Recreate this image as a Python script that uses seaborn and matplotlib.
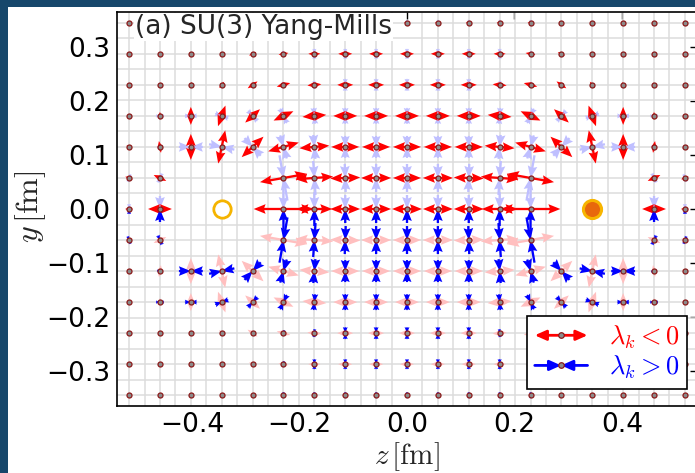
import numpy as np
import pandas as pd
import matplotlib
matplotlib.use("Agg")
import matplotlib.pyplot as plt
import seaborn as sns
from matplotlib.patches import Rectangle, FancyArrowPatch
from matplotlib.lines import Line2D
from matplotlib.legend_handler import HandlerBase
from matplotlib.ticker import MultipleLocator

nan = np.nan

# ---------------- data ----------------
site_step = 0.0575                       # fm between plotted sites
z_sites = [0, 1, 2, 3, 4, 5, 6, 7, 8, 9]  # column index (z = index*site_step), mirrored to z<0
y_sites = [0, 1, 2, 3, 4, 5, 6]           # row index (y = index*site_step), mirrored to y<0
charge_z = [-0.345, 0.345]
charge_y = [0.0, 0.0]

# half-length of the lambda_k<0 (red) eigenvector arrows, quadrant z>=0, y>=0
neg_len = [
    [15, 15, 15, 18, 30, nan, nan, nan, 12, 4],
    [14, 15, 15, 19, 24, nan, nan, nan, 7, 4],
    [14, 14, 14, 15, 16, 15, 17, 13, 6, 3],
    [12, 12, 12, 12, 11, 10, 11, 9, 4, 2],
    [8, 8, 8, 7, 7, 6, 4, 3, 2.5, 1.5],
    [7, 7, 7, 6, 5, 4, 2, 1.5, 1.5, 1.5],
    [3, 3, 3, 3, 3, 1.5, 1.5, 1.5, 1.5, 1.5],
]
# direction (deg from z axis) of the lambda_k<0 eigenvector, same quadrant
neg_angle = [
    [0, 0, 0, 0, 0, nan, nan, nan, 0, 0],
    [0, 0, -2, -4, -10, nan, nan, nan, 25, 20],
    [0, 0, 0, -5, -16, -43, -78, 90, 80, 30],
    [0, 0, 0, -5, -25, -42, -70, 90, 90, 0],
    [0, 0, 0, -5, -15, -35, -52, -72, -70, 0],
    [0, 0, 0, 0, -10, -25, -40, 0, 0, 0],
    [0, 0, 0, 0, 0, 0, 0, 0, 0, 0],
]
# half-length of the lambda_k>0 (blue) eigenvector arrows, same quadrant
pos_len = [
    [14, 14, 14, 17, 20, nan, nan, nan, 13, 5],
    [14, 14, 14, 17, 23, nan, nan, nan, 5, 4],
    [11, 11, 11, 12, 12, 12, 13, 12, 3, 1.5],
    [8, 8, 8, 8, 8, 7, 7, 6, 4, 1.5],
    [6, 6, 6, 4, 3, 2, 1.5, 1.5, 1.5, 1.5],
    [5, 5, 5, 5, 3, 2, 1.5, 1.5, 1.5, 1.5],
    [3, 3, 3, 3, 3, 1.5, 1.5, 1.5, 1.5, 1.5],
]

xticks = [-0.4, -0.2, 0.0, 0.2, 0.4]
yticks = [-0.3, -0.2, -0.1, 0.0, 0.1, 0.2, 0.3]
panel_title = "(a) SU(3) Yang-Mills"
legend_labels = [r"$\lambda_k < 0$", r"$\lambda_k > 0$"]
xlabel = r"$z\,[\mathrm{fm}]$"
ylabel = r"$y\,[\mathrm{fm}]$"

RED, BLUE = "#ff0000", "#0000ff"
RED_L, BLUE_L = "#ffbfbf", "#bfbfff"

# ---------------- build the full (mirrored) field table ----------------
recs = []
for jj in range(-max(y_sites), max(y_sites) + 1):
    for ii in range(-max(z_sites), max(z_sites) + 1):
        a, b = abs(jj), abs(ii)
        lr = neg_len[a][b]
        if np.isnan(lr):
            continue
        sgn = (1 if ii >= 0 else -1) * (1 if jj >= 0 else -1)
        th = np.deg2rad(neg_angle[a][b] * sgn)
        recs.append(dict(i=ii, j=jj, z=ii * site_step, y=jj * site_step,
                         lr=lr, lb=pos_len[a][b], th=th))
df = pd.DataFrame(recs)

# ---------------- figure ----------------
sns.set_style("white")
plt.rcParams["font.family"] = ["DejaVu Sans"]
plt.rcParams["mathtext.fontset"] = "cm"

fig = plt.figure(figsize=(6.95, 4.73), dpi=100)
fig.patch.set_facecolor("#17476b")
fig.patches.append(Rectangle((8 / 695, 0), 1, (473 - 7) / 473, transform=fig.transFigure,
                             facecolor="white", edgecolor="none", zorder=-5))
ax = fig.add_axes([117 / 695, (473 - 406) / 473, 580 / 695, 394 / 473])
ax.set_facecolor("white")

qkw = dict(angles="xy", scale_units="xy", scale=540, units="dots", width=2.3,
           headwidth=4.2, headlength=5.2, headaxislength=4.6, linewidth=0)

red_parts = {True: [], False: []}
blue_parts = {True: [], False: []}
for r in df.itertuples():
    c, s_ = np.cos(r.th), np.sin(r.th)
    for s in (1, -1):
        red_parts[r.j >= 0].append((r.z, r.y, s * r.lr * c, s * r.lr * s_))
    phi = r.th + np.pi / 2
    cp, sp = np.cos(phi), np.sin(phi)
    for s in (1, -1):
        opaque = (r.j < 0) or (r.j == 0 and s * sp < -1e-9)
        blue_parts[opaque].append((r.z, r.y, -s * r.lb * cp, -s * r.lb * sp))


def draw(parts, color, pivot, z):
    if not parts:
        return
    a = np.array(parts)
    ax.quiver(a[:, 0], a[:, 1], a[:, 2], a[:, 3], color=color, pivot=pivot, zorder=z, **qkw)


draw(red_parts[False], RED_L, "tail", 2)
draw(blue_parts[False], BLUE_L, "tip", 2)
draw(red_parts[True], RED, "tail", 3)
draw(blue_parts[True], BLUE, "tip", 3)

sns.scatterplot(data=df, x="z", y="y", s=13, color="#8c8c8c", edgecolor="#8b1a1a",
                linewidth=0.9, ax=ax, zorder=4, legend=False)
sns.scatterplot(x=[charge_z[0]], y=[charge_y[0]], s=156, color="white", edgecolor="#f5b400",
                linewidth=2.0, ax=ax, zorder=5, legend=False)
sns.scatterplot(x=[charge_z[1]], y=[charge_y[1]], s=170, color="#e8680c", edgecolor="#f7b500",
                linewidth=2.2, ax=ax, zorder=5, legend=False)

ax.set_xlim(-0.54, 0.54)
ax.set_ylim(-0.365, 0.365)
ax.set_xticks(xticks)
ax.set_yticks(yticks)
ax.set_xticklabels([f"{v:.1f}".replace("-", "\u2212") for v in xticks])
ax.set_yticklabels([f"{v:.1f}".replace("-", "\u2212") for v in yticks])
ax.xaxis.set_minor_locator(MultipleLocator(site_step / 2))
ax.yaxis.set_minor_locator(MultipleLocator(site_step / 2))
ax.set_axisbelow(True)
ax.grid(which="minor", color="#dcdcdc", linewidth=1.1)
ax.grid(which="major", visible=False)
ax.tick_params(which="major", direction="in", length=5, width=1, top=True, right=True,
               labelsize=19, pad=5, colors="black")
ax.tick_params(axis="x", which="major", pad=4)
ax.tick_params(which="minor", length=0)
for sp in ax.spines.values():
    sp.set_color("black")
    sp.set_linewidth(1.2)

ax.set_xlabel(xlabel, fontsize=21)
ax.set_ylabel(ylabel, fontsize=23)
ax.xaxis.set_label_coords(0.5, -0.088)
ax.yaxis.set_label_coords(-0.119, 0.505)

ax.text(0.031, 0.995, panel_title, transform=ax.transAxes, ha="left", va="top", fontsize=19,
        zorder=8, bbox=dict(facecolor="white", edgecolor="none", pad=1.0))


class PairArrowHandler(HandlerBase):
    def __init__(self, color, outward):
        super().__init__()
        self.color = color
        self.outward = outward

    def create_artists(self, legend, orig_handle, xdescent, ydescent, width, height, fontsize, trans):
        yc = height / 2 - ydescent
        x0 = -xdescent
        x1 = x0 + width
        xm = 0.5 * (x0 + x1)
        if self.outward:
            segs = [((xm, yc), (x0, yc)), ((xm, yc), (x1, yc))]
        else:
            segs = [((x0, yc), (xm, yc)), ((x1, yc), (xm, yc))]
        arts = []
        for a, b in segs:
            p = FancyArrowPatch(a, b, arrowstyle="-|>,head_length=0.45,head_width=0.2",
                                mutation_scale=15, lw=2, color=self.color, shrinkA=0, shrinkB=0)
            p.set_transform(trans)
            arts.append(p)
        dot = Line2D([xm], [yc], marker="o", ms=4, mfc="#8c8c8c", mec="#8b1a1a", mew=0.9, ls="none")
        dot.set_transform(trans)
        arts.append(dot)
        return arts


h_neg, h_pos = Line2D([], []), Line2D([], [])
leg = ax.legend([h_neg, h_pos], legend_labels,
                handler_map={h_neg: PairArrowHandler(RED, True), h_pos: PairArrowHandler(BLUE, False)},
                loc="lower right", bbox_to_anchor=(0.983, 0.043), borderaxespad=0, fontsize=19,
                frameon=True, fancybox=False, edgecolor="black", framealpha=1,
                handlelength=2.0, handletextpad=0.8, labelspacing=0.1, borderpad=0.3)
leg.get_frame().set_linewidth(1.2)
leg.set_zorder(10)
for t, c in zip(leg.get_texts(), [RED, BLUE]):
    t.set_color(c)

fig.savefig("out.png", dpi=100, facecolor=fig.get_facecolor())
